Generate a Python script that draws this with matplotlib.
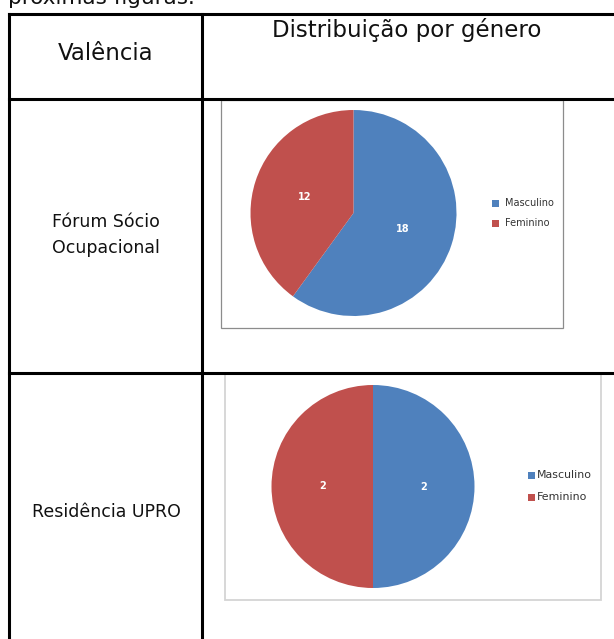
import matplotlib
matplotlib.use("Agg")
import matplotlib.pyplot as plt
from matplotlib.patches import Rectangle
from matplotlib.lines import Line2D

# ---- data ----
header_left = "Valência"
header_right = "Distribuição por género"
valencias = ["Fórum Sócio\nOcupacional", "Residência UPRO"]
generos = ["Masculino", "Feminino"]
forum_values = [18, 12]
upro_values = [2, 2]
colors = ["#4F81BD", "#C0504D"]

W, H = 614, 639
fig = plt.figure(figsize=(W / 100, H / 100), dpi=100)
fig.patch.set_facecolor("white")

# overlay axes in pixel coordinates
ov = fig.add_axes([0, 0, 1, 1], zorder=0)
ov.set_xlim(0, W)
ov.set_ylim(H, 0)
ov.axis("off")

FONT = "DejaVu Sans"

# partially visible text above table (cut by the top edge, as in the reference)
ov.text(8, 4.5, "próximas figuras.", fontsize=15.5, family=FONT, color="#111111",
        va="baseline", ha="left")

# table lines
lw = 2.2
ov.add_line(Line2D([8.5, W], [14, 14], color="black", lw=lw))
ov.add_line(Line2D([8.5, W], [98.5, 98.5], color="black", lw=lw))
ov.add_line(Line2D([8.5, W], [372.5, 372.5], color="black", lw=lw))
ov.add_line(Line2D([8.5, 8.5], [14, H], color="black", lw=lw))
ov.add_line(Line2D([202, 202], [14, H], color="black", lw=lw))

# header text
ov.text(106, 54, header_left, fontsize=16.5, family=FONT, ha="center", va="center", color="#111111")
ov.text(407, 30, header_right, fontsize=16.5, family=FONT, ha="center", va="center", color="#111111")

# row labels
ov.text(105.5, 235, valencias[0], fontsize=12.5, family=FONT, ha="center", va="center",
        color="#111111", linespacing=1.55)
ov.text(106, 512, valencias[1], fontsize=12.5, family=FONT, ha="center", va="center",
        color="#111111")

# chart boxes
ov.add_patch(Rectangle((221, 99.5), 342, 228, facecolor="white", edgecolor="#8c8c8c", lw=0.9))
ov.add_patch(Rectangle((224.5, 373.5), 376, 226, facecolor="white", edgecolor="#d4d4d4", lw=1.3))


def pie_axes(cx, cy, r):
    return fig.add_axes([(cx - r) / W, (H - (cy + r)) / H, 2 * r / W, 2 * r / H], zorder=2)


def draw_pie(ax, values):
    ax.pie(values, colors=colors, startangle=90, counterclock=False,
           labels=[str(v) for v in values], labeldistance=0.5,
           textprops=dict(color="white", fontsize=7, fontweight="bold", family=FONT,
                          ha="center", va="center"),
           wedgeprops=dict(linewidth=0))
    ax.set_xlim(-1, 1)
    ax.set_ylim(-1, 1)
    ax.set_aspect("equal")
    ax.axis("off")


ax1 = pie_axes(353.5, 213, 103)
draw_pie(ax1, forum_values)
ax2 = pie_axes(373, 486.5, 101.5)
draw_pie(ax2, upro_values)


def legend_at(x, y1, y2, fs, gap):
    for name, col, yy in zip(generos, colors, [y1, y2]):
        ov.add_patch(Rectangle((x - 3.5, yy - 3.5), 7, 7, facecolor=col, edgecolor="none", zorder=3))
        ov.text(x + gap, yy, name, fontsize=fs, family=FONT, ha="left", va="center",
                color="#333333", zorder=3)


legend_at(495.5, 203, 223.5, 7.0, 9)
legend_at(531.5, 475, 497, 7.9, 5.5)

fig.savefig("out.png", dpi=100, facecolor="white")
